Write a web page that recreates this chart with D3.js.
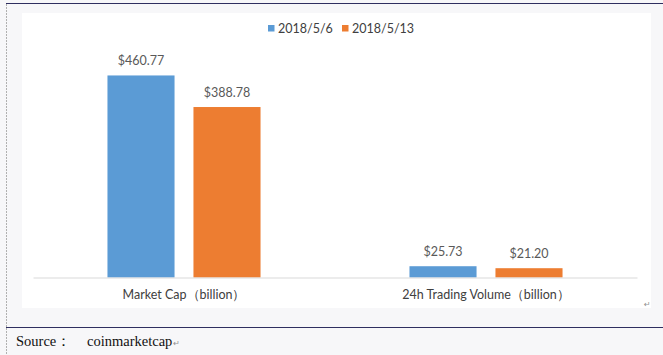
<!DOCTYPE html>
<html><head><meta charset="utf-8">
<script src="https://cdn.jsdelivr.net/npm/d3@7"></script>
<style>html,body{margin:0;padding:0;background:#f7f7f9;}svg{display:block;}</style>
</head><body>
<svg id="c" width="663" height="355"></svg>
<script>
const categories = ["Market Cap（billion）", "24h Trading Volume（billion）"];
const seriesNames = ["2018/5/6", "2018/5/13"];
const values0506 = [460.77, 25.73];
const values0513 = [388.78, 21.20];
const labels0506 = ["$460.77", "$25.73"];
const labels0513 = ["$388.78", "$21.20"];
const colors = ["#5b9bd5", "#ed7d31"];

const svg = d3.select("#c");
const W = 663, H = 355;
svg.append("rect").attr("width", W).attr("height", H).attr("fill", "#f7f7f9");
// top rule and left dashed margin
svg.append("line").attr("x1", 6).attr("x2", W).attr("y1", 3.5).attr("y2", 3.5).attr("stroke", "#2e2e60").attr("stroke-width", 1.2);
svg.append("line").attr("x1", 6.5).attr("x2", 6.5).attr("y1", 4).attr("y2", H).attr("stroke", "#b0b0b0").attr("stroke-dasharray", "2,1");
// white chart panel
svg.append("rect").attr("x", 22).attr("y", 13).attr("width", 629).attr("height", 295).attr("fill", "#ffffff");

const x0 = d3.scaleBand().domain(categories).range([33, 637]).paddingInner(0).paddingOuter(0);
const x1 = d3.scaleBand().domain(seriesNames).range([0, x0.bandwidth()]).paddingInner(0.22).paddingOuter(0.866);
const y = d3.scaleLinear().domain([0, 500]).range([277.5, 277.5 - 500 * 0.4385]);

const series = [values0506, values0513];
const labels = [labels0506, labels0513];

const g = svg.append("g");
series.forEach((vals, si) => {
  g.selectAll(null).data(categories).enter().append("rect")
    .attr("x", (c) => x0(c) + x1(seriesNames[si]))
    .attr("y", (c, i) => y(vals[i]))
    .attr("width", x1.bandwidth())
    .attr("height", (c, i) => y(0) - y(vals[i]))
    .attr("fill", colors[si]);
  g.selectAll(null).data(categories).enter().append("text")
    .attr("x", (c) => x0(c) + x1(seriesNames[si]) + x1.bandwidth() / 2)
    .attr("y", (c, i) => y(vals[i]) - 10)
    .attr("text-anchor", "middle")
    .attr("font-family", "Lato, 'Open Sans', sans-serif")
    .attr("font-size", 12.5)
    .attr("fill", "#595959")
    .text((c, i) => labels[si][i]);
});

// baseline axis
const xAxis = d3.axisBottom(x0).tickSize(0).tickPadding(13);
const ax = svg.append("g").attr("transform", `translate(0,${y(0)})`).call(xAxis);
ax.select(".domain").attr("stroke", "#d9d9d9").attr("stroke-width", 1.2);
ax.selectAll("text").attr("font-family", "Lato, 'Open Sans', sans-serif").attr("font-size", 12.5).attr("fill", "#404040");

// legend
const legendItems = [{n: seriesNames[0], c: colors[0], x: 268}, {n: seriesNames[1], c: colors[1], x: 342}];
legendItems.forEach(d => {
  svg.append("rect").attr("x", d.x).attr("y", 25).attr("width", 6.5).attr("height", 6.5).attr("fill", d.c);
  svg.append("text").attr("x", d.x + 10).attr("y", 33).attr("font-family", "Lato, 'Open Sans', sans-serif")
    .attr("font-size", 12.5).attr("fill", "#404040").text(d.n);
});

// paragraph marks
svg.append("text").attr("x", 644).attr("y", 307).attr("font-family", "DejaVu Sans").attr("font-size", 8).attr("fill", "#909090").text("↵");

// bottom rule and source
svg.append("line").attr("x1", 6).attr("x2", W).attr("y1", 327.5).attr("y2", 327.5).attr("stroke", "#2e2e60").attr("stroke-width", 1.2);
svg.append("text").attr("x", 16).attr("y", 346).attr("font-family", "'Liberation Serif', serif").attr("font-size", 14.5).attr("fill", "#111").text("Source：");
const src = svg.append("text").attr("x", 87).attr("y", 346).attr("font-family", "'Liberation Serif', serif").attr("font-size", 14.5).attr("fill", "#111").text("coinmarketcap");
const bb = src.node().getBBox();
svg.append("text").attr("x", bb.x + bb.width + 1).attr("y", 346).attr("font-family", "DejaVu Sans").attr("font-size", 8).attr("fill", "#909090").text("↵");
</script>
</body></html>
